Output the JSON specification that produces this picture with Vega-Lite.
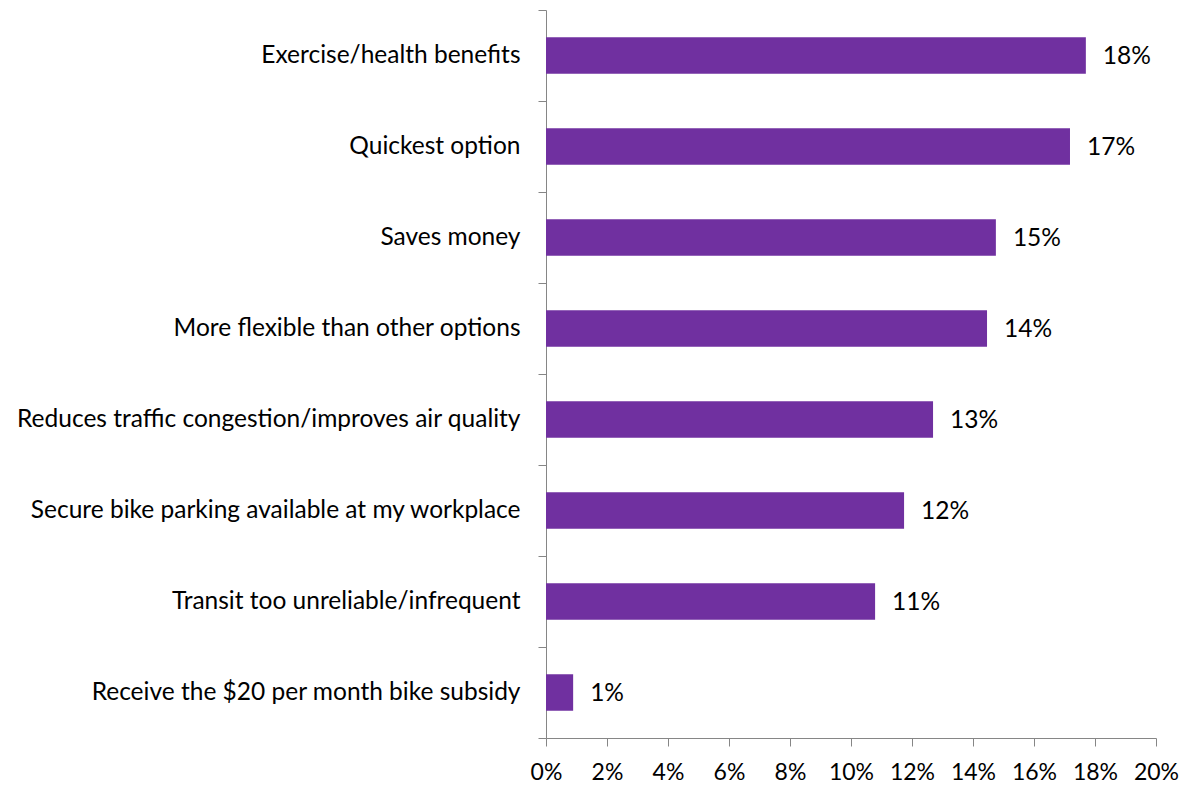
{
  "$schema": "https://vega.github.io/schema/vega-lite/v6.json",
  "autosize": {"type": "none"},
  "padding": {"left": 546, "top": 10, "right": 26, "bottom": 48},
  "width": 610,
  "height": 728,
  "background": "white",
  "config": {"view": {"stroke": null}, "font": "Lato"},
  "data": {"values": [
    {"reason": "Exercise/health benefits", "pct": 0.177, "label": "18%"},
    {"reason": "Quickest option", "pct": 0.1718, "label": "17%"},
    {"reason": "Saves money", "pct": 0.1475, "label": "15%"},
    {"reason": "More flexible than other options", "pct": 0.1446, "label": "14%"},
    {"reason": "Reduces traffic congestion/improves air quality", "pct": 0.1269, "label": "13%"},
    {"reason": "Secure bike parking available at my workplace", "pct": 0.1174, "label": "12%"},
    {"reason": "Transit too unreliable/infrequent", "pct": 0.1079, "label": "11%"},
    {"reason": "Receive the $20 per month bike subsidy", "pct": 0.0089, "label": "1%"}
  ]},
  "encoding": {
    "y": {"field": "reason", "type": "nominal", "sort": null,
      "scale": {"paddingInner": 0, "paddingOuter": 0},
      "axis": {"title": null, "tickBand": "extent", "tickSize": 8, "labelPadding": 18,
        "domainColor": "#868686", "tickColor": "#868686", "labelFontSize": 24.5,
        "labelColor": "#000000", "labelLimit": 600, "labelFont": "Lato"}},
    "x": {"field": "pct", "type": "quantitative",
      "scale": {"domain": [0, 0.2], "nice": false},
      "axis": {"title": null, "values": [0,0.02,0.04,0.06,0.08,0.1,0.12,0.14,0.16,0.18,0.2],
        "format": ".0%", "grid": false, "tickSize": 8, "labelPadding": 15,
        "labelOverlap": false, "labelFlush": false,
        "domainColor": "#868686", "tickColor": "#868686", "labelFontSize": 23,
        "labelColor": "#000000", "labelFont": "Lato"}}
  },
  "layer": [
    {"mark": {"type": "bar", "color": "#7030A0", "height": {"band": 0.4}}},
    {"mark": {"type": "text", "align": "left", "dx": 17, "dy": 1, "fontSize": 24.5, "color": "#000000", "font": "Lato"},
      "encoding": {"text": {"field": "label"}}}
  ]
}
